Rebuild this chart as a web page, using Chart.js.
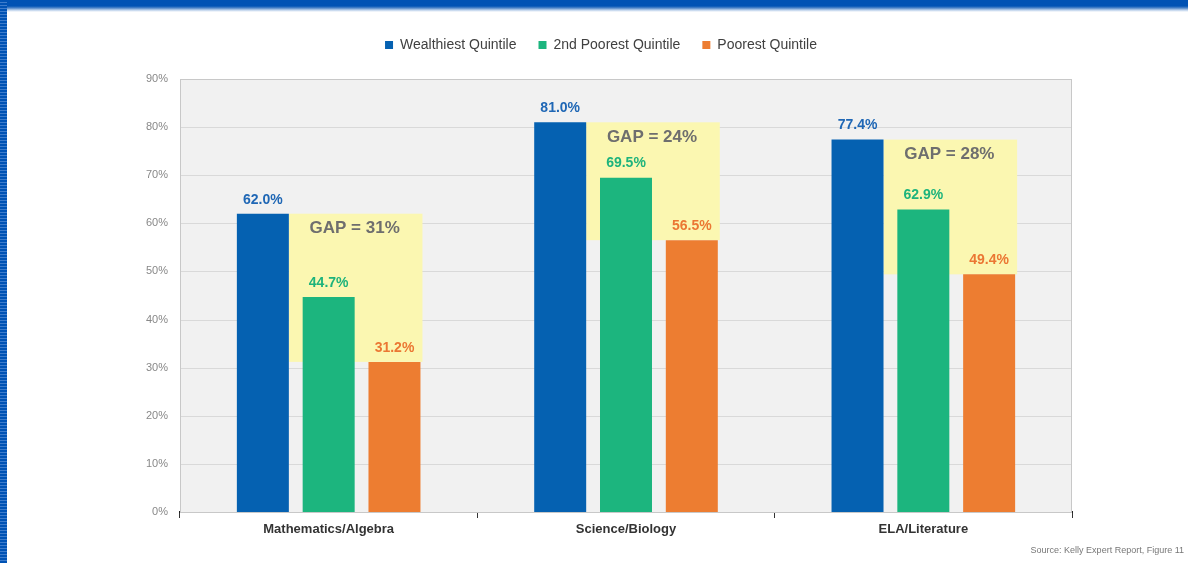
<!DOCTYPE html>
<html>
<head>
<meta charset="utf-8">
<script src="https://cdn.jsdelivr.net/npm/chart.js@4/dist/chart.umd.min.js"></script>
<style>
 body{margin:0;background:#fff;overflow:hidden}
 #wrap{position:relative;width:1188px;height:563px}
 #topbar{position:absolute;left:0;top:0;width:1188px;height:12px;
   background:linear-gradient(#0052b4 0,#0052b4 6px,#4f86c9 8px,#b9cfea 10px,#ffffff 12px);z-index:2}
 #leftbar{position:absolute;left:0;top:0;width:7px;height:563px;z-index:2;
   background:repeating-linear-gradient(#0052b4 0,#0052b4 2px,#3d7ccc 2px,#3d7ccc 3px)}
 #source{position:absolute;right:4px;top:545px;font:9px Arial,"Liberation Sans",sans-serif;color:#777;z-index:2}
 canvas{position:absolute;left:0;top:0}
</style>
</head>
<body>
<div id="wrap">
 <div id="topbar"></div>
 <div id="leftbar"></div>
 <canvas id="mychart" width="1188" height="563"></canvas>
 <div id="source">Source: Kelly Expert Report, Figure 11</div>
</div>
<script>
// data
var subjects = ["Mathematics/Algebra", "Science/Biology", "ELA/Literature"]
var wealthiest = [62.0, 81.0, 77.4]
var secondPoorest = [44.7, 69.5, 62.9]
var poorest = [31.2, 56.5, 49.4]
var gapLabels = ["GAP = 31%", "GAP = 24%", "GAP = 28%"]
var yTicks = [0, 10, 20, 30, 40, 50, 60, 70, 80, 90]

var FONT = 'Arial, "Liberation Sans", sans-serif'
var labelColors = ["#1f67b5", "#1db37c", "#eb7733"]

// give the legend some extra room underneath
var legendSpace = {
 id:'legendSpace',
 beforeLayout:function(chart){
  var lg = chart.legend
  if (lg && !lg._patched){
   var f = lg.fit
   lg.fit = function(){ f.call(this); this.height += 17 }
   lg._patched = true
  }
 }
}

// grey plot background + yellow gap boxes behind the bars
var backdrop = {
 id:'backdrop',
 beforeDatasetsDraw:function(chart){
  var c = chart.ctx, a = chart.chartArea
  var y = chart.scales.y
  c.save()
  c.fillStyle = "#f1f1f1"
  c.fillRect(a.left, a.top, a.right-a.left, a.bottom-a.top)
  c.strokeStyle = "#d9d9d9"
  c.lineWidth = 1
  yTicks.forEach(function(t){
   var py = Math.round(y.getPixelForValue(t)) + 0.5
   c.beginPath(); c.moveTo(a.left, py); c.lineTo(a.right, py); c.stroke()
  })
  c.strokeStyle = "#c8c8c8"
  c.strokeRect(a.left+0.5, a.top+0.5, a.right-a.left-1, a.bottom-a.top)
  var m0 = chart.getDatasetMeta(0).data
  var m2 = chart.getDatasetMeta(2).data
  c.fillStyle = "#fbf7b1"
  for (var i=0;i<subjects.length;i++){
   var x1 = m0[i].x + m0[i].width/2
   var x2 = m2[i].x + m2[i].width/2 + 2
   var top = y.getPixelForValue(wealthiest[i])
   var bot = y.getPixelForValue(poorest[i])
   c.fillRect(x1, top, x2-x1, bot-top)
  }
  c.restore()
 },
 afterDatasetsDraw:function(chart){
  var c = chart.ctx
  var y = chart.scales.y
  c.save()
  c.textAlign = "center"
  c.textBaseline = "bottom"
  c.font = "bold 14px " + FONT
  chart.data.datasets.forEach(function(ds, di){
   c.fillStyle = labelColors[di]
   chart.getDatasetMeta(di).data.forEach(function(bar, i){
    c.fillText(ds.data[i].toFixed(1)+"%", bar.x, bar.y-7)
   })
  })
  var m0 = chart.getDatasetMeta(0).data
  var m2 = chart.getDatasetMeta(2).data
  c.font = "bold 17px " + FONT
  c.fillStyle = "#6e6e6e"
  c.textBaseline = "middle"
  for (var i=0;i<subjects.length;i++){
   var x1 = m0[i].x + m0[i].width/2
   var x2 = m2[i].x + m2[i].width/2
   var top = y.getPixelForValue(wealthiest[i])
   c.fillText(gapLabels[i], (x1+x2)/2, top+15)
  }
  c.restore()
 }
}

var chart = new Chart(document.getElementById("mychart").getContext('2d'),{
 type:'bar',
 data:{
  labels:subjects,
  datasets:[
   {label:"Wealthiest Quintile", data:wealthiest, backgroundColor:"#0561b1"},
   {label:"2nd Poorest Quintile", data:secondPoorest, backgroundColor:"#1cb57e"},
   {label:"Poorest Quintile", data:poorest, backgroundColor:"#ed7d31"}
  ]
 },
 options:{
  responsive:false,
  animation:false,
  layout:{padding:{left:130, right:116, top:16, bottom:0}},
  datasets:{bar:{categoryPercentage:0.664, barPercentage:0.79}},
  plugins:{
   legend:{
    labels:{boxWidth:8, boxHeight:8, padding:22, color:"#404040", font:{family:FONT, size:14}}
   },
   tooltip:{enabled:false}
  },
  scales:{
   x:{
    afterFit:function(s){ s.height = 51 },
    grid:{drawOnChartArea:false, drawTicks:true, tickLength:6, color:"#333", offset:true},
    border:{color:"#222", width:2},
    ticks:{color:"#333", padding:4, font:{family:FONT, size:13, weight:'bold'}}
   },
   y:{
    min:0, max:90,
    afterFit:function(s){ s.width = 50 },
    grid:{display:false},
    border:{display:false},
    ticks:{stepSize:10, color:"#888", padding:4, font:{family:FONT, size:11},
     callback:function(v){ return v+"%" }}
   }
  }
 },
 plugins:[legendSpace, backdrop]
})
</script>
</body>
</html>
